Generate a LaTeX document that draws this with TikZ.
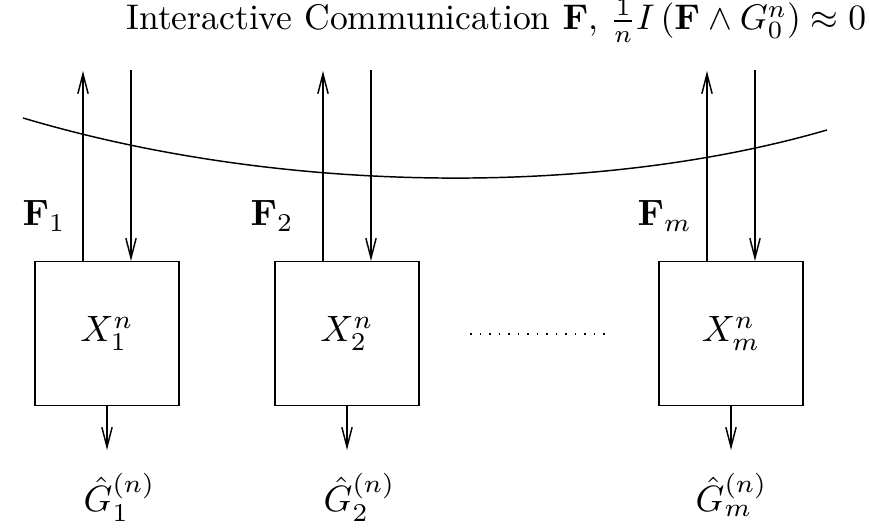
\documentclass[tikz,border=0pt]{standalone}
\usepackage{amsmath}
\usepackage{graphicx}
\usetikzlibrary{arrows.meta}
\begin{document}
\begin{tikzpicture}[x=0.273pt,y=-0.273pt,
  line width=0.4pt,
  arr/.style={-{Straight Barb[length=5.4pt,width=2.8pt,line width=0.4pt]}},
  boxnode/.style={draw,minimum width=39.3pt,minimum height=39.2pt,inner sep=0pt},
  lbl/.style={inner sep=0pt,anchor=base west}]
\useasboundingbox (0,0) rectangle (869,529);
% title
\node[inner sep=0pt,anchor=base east] (title) at (867,30) {\scalebox{0.972}{Interactive Communication $\mathbf{F}$, $\frac{1}{n}I\left(\mathbf{F}\wedge G_0^n\right)\approx 0$}};
% boundary curve
\draw (23,118) .. controls (285,196) and (600,196) .. (827,130);
% boxes
\node[boxnode] (b1) at (107,333.5) {$X_1^n$};
\node[boxnode] (b2) at (347,333.5) {$X_2^n$};
\node[boxnode] (b3) at (731,333.5) {$X_m^n$};
% top ends
\coordinate (u1) at (83,71);  \coordinate (d1) at (131,70);
\coordinate (u2) at (323,71); \coordinate (d2) at (371,70);
\coordinate (u3) at (707,71); \coordinate (d3) at (755,70);
\draw[arr] (b1.north -| u1) -- (u1);
\draw[arr] (d1) -- (b1.north -| d1);
\draw[arr] (b2.north -| u2) -- (u2);
\draw[arr] (d2) -- (b2.north -| d2);
\draw[arr] (b3.north -| u3) -- (u3);
\draw[arr] (d3) -- (b3.north -| d3);
% outputs
\coordinate (o1) at (107,450);
\coordinate (o2) at (347,450);
\coordinate (o3) at (731,450);
\draw[arr] (b1.south) -- (o1);
\draw[arr] (b2.south) -- (o2);
\draw[arr] (b3.south) -- (o3);
\node[lbl] (g1) at (83,512) {$\hat{G}_1^{(n)}$};
\node[lbl] (g2) at (323,512) {$\hat{G}_2^{(n)}$};
\node[lbl] (g3) at (695,512) {$\hat{G}_m^{(n)}$};
% F labels
\node[lbl] (f1) at (22,226) {$\mathbf{F}_1$};
\node[lbl] (f2) at (250,226) {$\mathbf{F}_2$};
\node[lbl] (f3) at (637,226) {$\mathbf{F}_m$};
% dots
\coordinate (dl) at (470,334);
\coordinate (dr) at (608,334);
\draw[line width=0.45pt,dash pattern=on 0.45pt off 2.15pt] (dl) -- (dr);
\end{tikzpicture}
\end{document}
